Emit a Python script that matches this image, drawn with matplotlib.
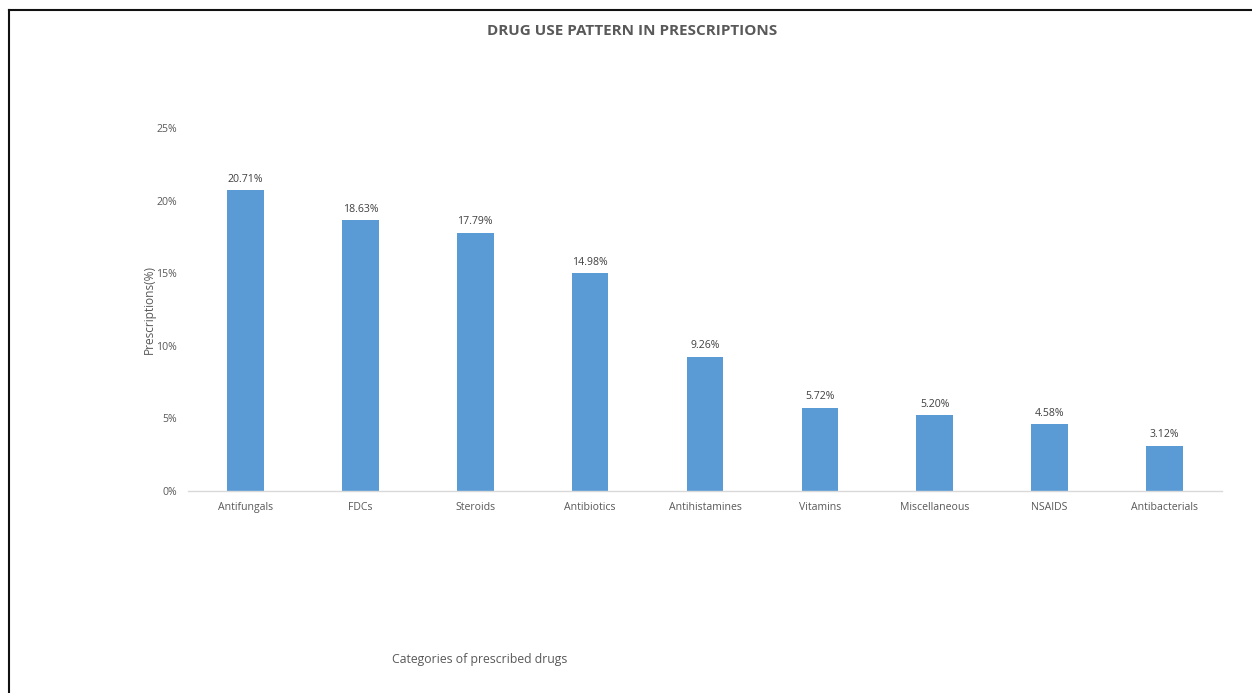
import matplotlib
matplotlib.use("Agg")
import matplotlib.pyplot as plt
from matplotlib.lines import Line2D
from matplotlib.ticker import FuncFormatter

categories = ["Antifungals", "FDCs", "Steroids", "Antibiotics", "Antihistamines",
              "Vitamins", "Miscellaneous", "NSAIDS", "Antibacterials"]
percentages = [20.71, 18.63, 17.79, 14.98, 9.26, 5.72, 5.20, 4.58, 3.12]
yticks = [0, 5, 10, 15, 20, 25]

W, H = 1252, 693
plt.rcParams["font.family"] = ["Open Sans", "DejaVu Sans"]
text_gray = "#595959"

fig = plt.figure(figsize=(W / 100, H / 100), dpi=100)
ax = fig.add_axes([188 / W, 1 - 491 / H, (1222 - 188) / W, (491 - 128) / H])

x = range(len(categories))
bars = ax.bar(x, percentages, width=0.32, color="#5B9BD5", zorder=2)
for xi, v in zip(x, percentages):
    ax.annotate(f"{v:.2f}%", (xi, v), xytext=(0, 4), textcoords="offset points",
                ha="center", va="bottom", fontsize=7.6, color="#404040")

ax.set_xlim(-0.5, len(categories) - 0.5)
ax.set_ylim(0, 25)
ax.set_yticks(yticks)
ax.yaxis.set_major_formatter(FuncFormatter(lambda v, _: f"{v:.0f}%"))
ax.set_xticks(list(x))
ax.set_xticklabels(categories)
ax.tick_params(axis="both", length=0, labelsize=7.6, labelcolor=text_gray)
ax.tick_params(axis="y", pad=8)
ax.tick_params(axis="x", pad=8)
for side in ("top", "right", "left"):
    ax.spines[side].set_visible(False)
ax.spines["bottom"].set_color("#D9D9D9")
ax.spines["bottom"].set_linewidth(1)

ax.set_ylabel("Prescriptions(%)", fontsize=8.6, color=text_gray, labelpad=0)

fig.text(632 / W, 1 - 31 / H, "DRUG USE PATTERN IN PRESCRIPTIONS", ha="center",
         va="center", fontsize=11, fontweight="bold", color=text_gray)
fig.text(480 / W, 1 - 660 / H, "Categories of prescribed drugs", ha="center",
         va="center", fontsize=8.8, color=text_gray)

# frame lines along the top and left edges
fig.add_artist(Line2D([8.5 / W, 1], [1 - 9.5 / H, 1 - 9.5 / H],
                      transform=fig.transFigure, color="#111111", linewidth=1.5))
fig.add_artist(Line2D([8.5 / W, 8.5 / W], [0, 1 - 9.5 / H],
                      transform=fig.transFigure, color="#111111", linewidth=1.5))

fig.savefig("out.png", dpi=100, facecolor="white")
